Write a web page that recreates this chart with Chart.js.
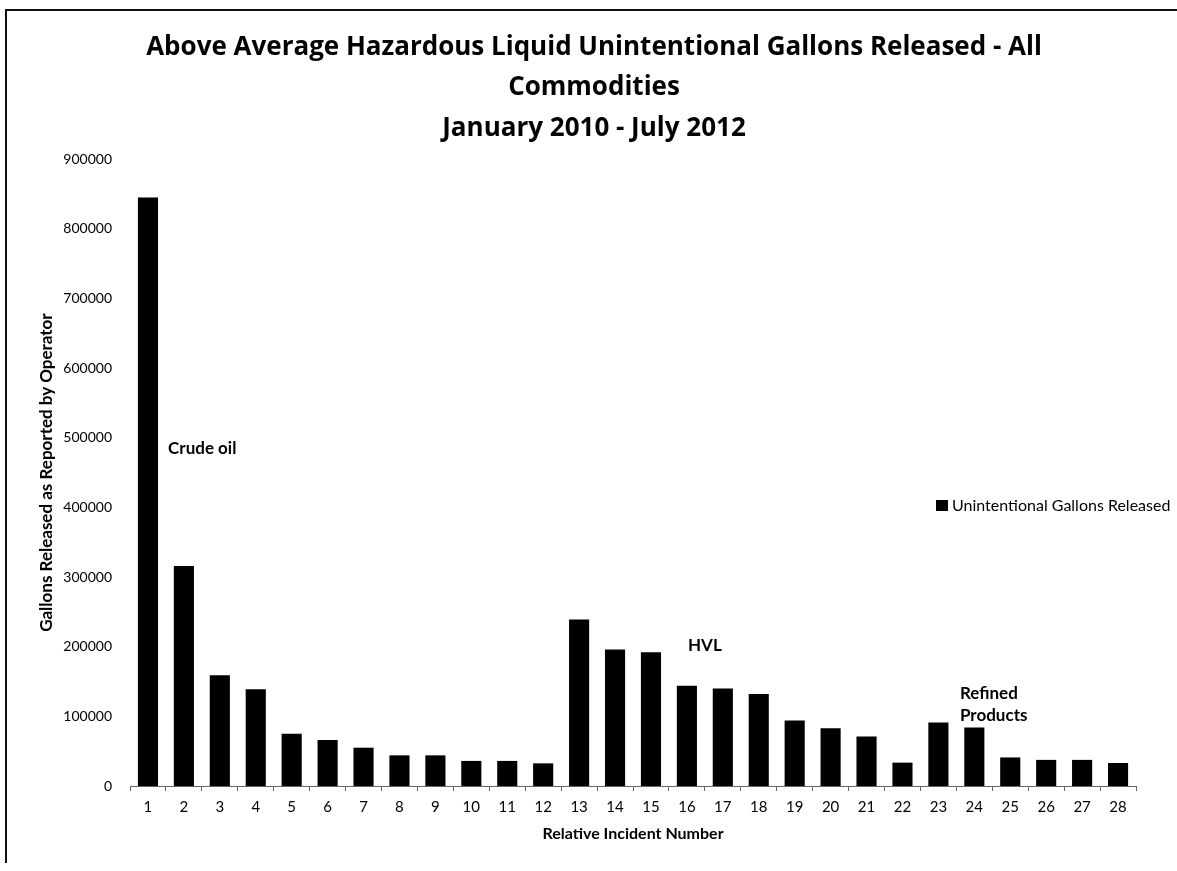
<!DOCTYPE html>
<html>
<head>
<meta charset="utf-8">
<script src="https://cdn.jsdelivr.net/npm/chart.js@4.4.0/dist/chart.umd.min.js"></script>
<style>
html, body { margin: 0; padding: 0; background: #fff; }
#wrap { position: absolute; left: 0; top: 0; width: 1177px; height: 871px; }
#frame { position: absolute; left: 5px; top: 9px; width: 1190px; height: 852px; border-left: 2px solid #111; border-top: 2px solid #111; }
</style>
</head>
<body>
<div id="frame"></div>
<div id="wrap"><canvas id="chart"></canvas></div>
<script>
// incident numbers along the x axis
var incidents = ['1','2','3','4','5','6','7','8','9','10','11','12','13','14',
                 '15','16','17','18','19','20','21','22','23','24','25','26','27','28'];
// gallons released
var gallons = [845000, 316000, 159000, 139000, 75000, 66000, 55000, 44000, 44000, 36000,
               36000, 32500, 239000, 196000, 192000, 144000, 140000, 132000, 94000, 83000,
               71000, 33500, 91000, 84000, 41000, 37500, 37500, 33000];
var seriesName = 'Unintentional Gallons Released';
var titleLines = ['Above Average Hazardous Liquid Unintentional Gallons Released - All',
                  'Commodities', 'January 2010 - July 2012'];
var yMax = 900000;
var yStep = 100000;

// commodity group labels written in the plot
var noteText = [['Crude oil'], ['HVL'], ['Refined', 'Products']];
var noteAt = [0.56, 15.5, 22.6];           // category position
var noteValue = [485000, 201000, 133000];  // height on the value axis
var noteAlign = ['left', 'center', 'left'];

Chart.defaults.font.family = 'Lato, "Open Sans", sans-serif';
Chart.defaults.color = '#000';

var notesPlugin = {
  id: 'notes',
  afterDraw: function (chart) {
    var ctx = chart.ctx;
    var x = chart.scales.x, y = chart.scales.y;
    var step = x.getPixelForValue(1) - x.getPixelForValue(0);
    ctx.save();
    ctx.fillStyle = '#000';
    ctx.font = 'bold 17px Lato, sans-serif';
    ctx.textBaseline = 'middle';
    for (var i = 0; i < noteText.length; i++) {
      var px = x.getPixelForValue(0) + noteAt[i] * step;
      var py = y.getPixelForValue(noteValue[i]);
      ctx.textAlign = noteAlign[i];
      for (var j = 0; j < noteText[i].length; j++) {
        ctx.fillText(noteText[i][j], px, py + j * 22);
      }
    }
    // legend on the right
    ctx.fillRect(936, 500, 12, 11);
    ctx.font = '16px Lato, sans-serif';
    ctx.textAlign = 'left';
    ctx.fillText(seriesName, 952, 506);
    ctx.restore();
  }
};

var ctx = document.getElementById('chart');
var chart = new Chart(ctx, {
  type: 'bar',
  data: {
    labels: incidents,
    datasets: [{
      label: seriesName,
      data: gallons,
      backgroundColor: '#000',
      borderWidth: 0,
      barPercentage: 0.56,
      categoryPercentage: 1.0
    }]
  },
  options: {
    responsive: true,
    maintainAspectRatio: false,
    animation: false,
    layout: { padding: { left: 52, right: 41, top: 0, bottom: 25 } },
    plugins: {
      legend: { display: false },
      tooltip: { enabled: false },
      title: {
        display: true,
        text: titleLines,
        color: '#000',
        font: { family: '"Open Sans", sans-serif', size: 26, weight: 'bold', lineHeight: 1.54 },
        padding: { top: 28, bottom: 11 }
      }
    },
    scales: {
      x: {
        afterFit: function (scale) { scale.height = 60; },
        grid: {
          offset: true,
          drawOnChartArea: false,
          drawTicks: true,
          tickLength: 5,
          color: '#666'
        },
        border: { color: '#666', width: 1 },
        ticks: { font: { size: 15 }, padding: 7, maxRotation: 0 },
        title: {
          display: true,
          text: 'Relative Incident Number',
          font: { size: 16, weight: 'bold' },
          padding: { top: 0, bottom: 3 }
        }
      },
      y: {
        min: 0,
        max: yMax,
        afterFit: function (scale) { scale.width = 78; },
        grid: { display: false, drawTicks: false },
        border: { display: false },
        ticks: {
          stepSize: yStep,
          font: { size: 14 },
          padding: 18,
          callback: function (v) { return String(v); }
        },
        title: {
          display: true,
          text: 'Gallons Released as Reported by Operator',
          font: { size: 17, weight: 'bold' },
          padding: { top: -16, bottom: 0 }
        }
      }
    }
  },
  plugins: [notesPlugin]
});
</script>
</body>
</html>
